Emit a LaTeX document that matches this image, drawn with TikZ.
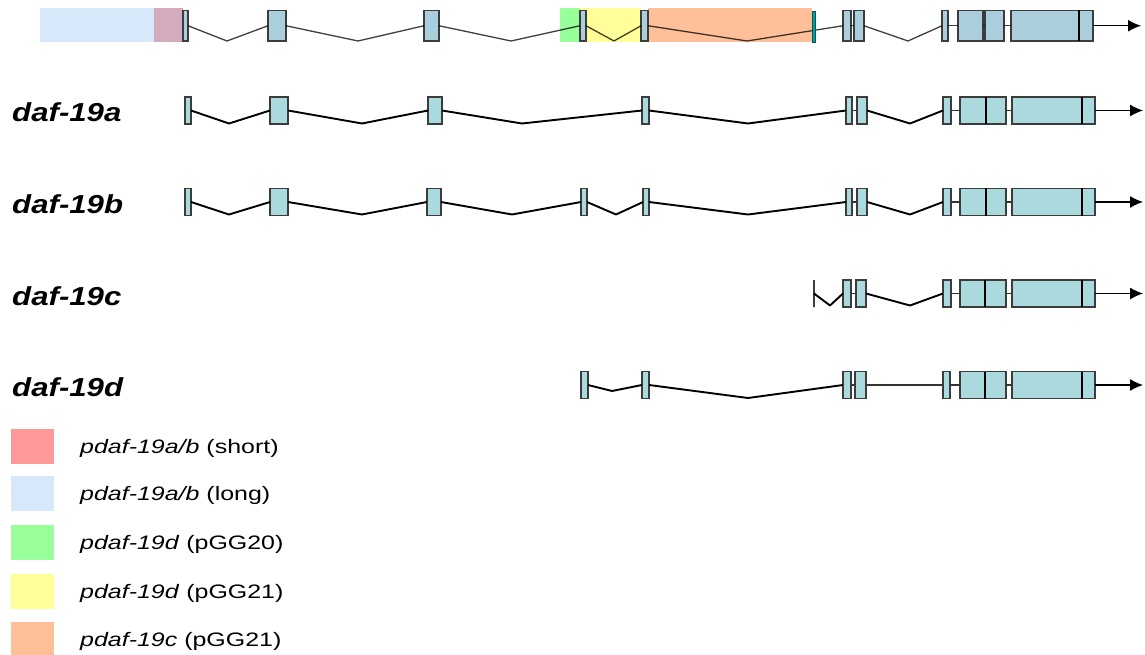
\documentclass[tikz,border=0pt]{standalone}
\usepackage{fontspec}
\setmainfont{Liberation Sans}
\usetikzlibrary{arrows.meta}
\definecolor{exA}{RGB}{170,218,222}
\definecolor{exT}{RGB}{170,206,220}
\definecolor{exBord}{RGB}{60,60,60}
\definecolor{tealx}{RGB}{0,160,160}
\definecolor{cShort}{RGB}{255,153,153}
\definecolor{cLong}{RGB}{214,232,250}
\definecolor{cOver}{RGB}{212,170,190}
\definecolor{cGreen}{RGB}{153,255,153}
\definecolor{cYellow}{RGB}{255,255,153}
\definecolor{cOrange}{RGB}{255,192,153}
\newcommand\ex[5]{\node[#5, minimum width={(#3-#2)*1pt}] (#1) at ({(#2+#3)/2},#4) {};}
\tikzset{
  exonA/.style={draw=exBord, fill=exA, line width=1.2pt, inner sep=0pt, outer sep=0pt, minimum height=27pt},
  exonT/.style={draw=exBord, fill=exT, line width=1.2pt, inner sep=0pt, outer sep=0pt, minimum height=30.5pt},
  tealex/.style={draw=teal!70!black, fill=tealx, line width=0.8pt, inner sep=0pt, outer sep=0pt, minimum height=31pt},
  intA/.style={draw=black, line width=1.9pt, line join=round},
  linA/.style={draw=black!80, line width=1.1pt},
  intT/.style={draw=black, opacity=0.75, line width=1.3pt, line join=round},
  barx/.style={draw=black, line width=2.8pt},
  arr/.style={draw=black, line width=1.2pt, -{Latex[length=13pt,width=12pt]}},
  lab/.style={anchor=base west, inner sep=0pt, font=\fontsize{26}{30}\selectfont\bfseries\itshape},
  legtxt/.style={anchor=base west, inner sep=0pt, font=\fontsize{19.5}{22}\selectfont},
  region/.style={draw=none, inner sep=0pt, outer sep=0pt, minimum height=34.5pt},
  legsq/.style={draw=none, inner sep=0pt, minimum width=43pt, minimum height=35pt},
}
\begin{document}
\begin{tikzpicture}[x=1pt, y=-1pt]
\useasboundingbox (0,0) rectangle (1145,655);
% ---------- top row: regions ----------
\ex{rLong}{40}{154}{25.25}{region, fill=cLong}
\ex{rShort}{154}{183}{25.25}{region, fill=cOver}
\ex{rGreen}{560}{580}{25.25}{region, fill=cGreen}
\ex{rYellow}{580}{641}{25.25}{region, fill=cYellow}
\ex{rOrange}{648}{812}{25.25}{region, fill=cOrange}
% ---------- top row: exons ----------
\ex{t1}{183}{188}{25.75}{exonT}
\ex{t2}{268}{286}{25.75}{exonT}
\ex{t3}{424}{439}{25.75}{exonT}
\ex{t4}{580}{586}{25.75}{exonT}
\ex{t5}{641}{648}{25.75}{exonT}
\ex{t6}{843}{851}{25.75}{exonT}
\ex{t7}{854}{864}{25.75}{exonT}
\ex{t8}{942}{948}{25.75}{exonT}
\ex{t9}{958}{983}{25.75}{exonT}
\ex{t10}{985}{1004}{25.75}{exonT}
\ex{t11}{1011}{1093}{25.75}{exonT}
\draw[intT] (t1.east) -- (227,41) -- (t2.west);
\draw[intT] (t2.east) -- (358,41) -- (t3.west);
\draw[intT] (t3.east) -- (511,41) -- (t4.west);
\draw[intT] (t4.east) -- (614,41) -- (t5.west);
\draw[intT] (t5.east) -- (747,41) -- (t6.west);
\draw[intT] (t6.east) -- (t7.west);
\draw[intT] (t7.east) -- (908,41) -- (t8.west);
\draw[intT] (t8.east) -- (t9.west);
\draw[intT] (t9.east) -- (t10.west);
\draw[intT] (t10.east) -- (t11.west);
\ex{tt}{812}{815}{27}{tealex}
\draw[barx] ([xshift=68pt]t11.north west) -- ([xshift=68pt]t11.south west);
\coordinate (tEnd) at (1141,25.75);
\draw[arr] (t11.east) -- (tEnd);
% ---------- row a ----------
\node[lab] (la) at (12,122) {\scalebox{1.2}[1]{daf-19a}};
\ex{a1}{185}{191}{110.5}{exonA}
\ex{a2}{270}{288}{110.5}{exonA}
\ex{a3}{428}{442}{110.5}{exonA}
\ex{a5}{642}{649}{110.5}{exonA}
\ex{a6}{846}{852}{110.5}{exonA}
\ex{a7}{857}{867}{110.5}{exonA}
\ex{a8}{943}{951}{110.5}{exonA}
\ex{a9}{960}{1006}{110.5}{exonA}
\ex{a11}{1012}{1095}{110.5}{exonA}
\draw[intA] (a1.east) -- (229,123.5) -- (a2.west);
\draw[intA] (a2.east) -- (362,123.5) -- (a3.west);
\draw[intA] (a3.east) -- (522,123.5) -- (a5.west);
\draw[intA] (a5.east) -- (748,123.5) -- (a6.west);
\draw[linA] (a6.east) -- (a7.west);
\draw[intA] (a7.east) -- (910,123.5) -- (a8.west);
\draw[linA] (a8.east) -- (a9.west);
\draw[linA] (a9.east) -- (a11.west);
\draw[barx] ([xshift=26pt]a9.north west) -- ([xshift=26pt]a9.south west);
\draw[barx] ([xshift=70pt]a11.north west) -- ([xshift=70pt]a11.south west);
\coordinate (aEnd) at (1143,110.5);
\draw[arr] (a11.east) -- (aEnd);
% ---------- row b ----------
\node[lab] (lb) at (12,213) {\scalebox{1.2}[1]{daf-19b}};
\ex{b1}{185}{191}{202}{exonA}
\ex{b2}{270}{288}{202}{exonA}
\ex{b3}{427}{441}{202}{exonA}
\ex{b4}{581}{587}{202}{exonA}
\ex{b5}{643}{649}{202}{exonA}
\ex{b6}{846}{852}{202}{exonA}
\ex{b7}{857}{867}{202}{exonA}
\ex{b8}{943}{951}{202}{exonA}
\ex{b9}{960}{1006}{202}{exonA}
\ex{b11}{1012}{1095}{202}{exonA}
\draw[intA] (b1.east) -- (229,214.5) -- (b2.west);
\draw[intA] (b2.east) -- (362,214.5) -- (b3.west);
\draw[intA] (b3.east) -- (512,214.5) -- (b4.west);
\draw[intA] (b4.east) -- (616,214.5) -- (b5.west);
\draw[intA] (b5.east) -- (748,214.5) -- (b6.west);
\draw[linA] (b6.east) -- (b7.west);
\draw[intA] (b7.east) -- (910,214.5) -- (b8.west);
\draw[linA] (b8.east) -- (b9.west);
\draw[linA] (b9.east) -- (b11.west);
\draw[barx] ([xshift=26pt]b9.north west) -- ([xshift=26pt]b9.south west);
\draw[barx] ([xshift=70pt]b11.north west) -- ([xshift=70pt]b11.south west);
\coordinate (bEnd) at (1143,202);
\draw[arr] (b11.east) -- (bEnd);
% ---------- row c ----------
\node[lab] (lc) at (12,305) {\scalebox{1.2}[1]{daf-19c}};
\node[draw=exBord, line width=1.2pt, inner sep=0pt, outer sep=0pt, minimum width=0pt, minimum height=27pt] (c0) at (814,293.5) {};
\ex{c6}{843}{851}{293.5}{exonA}
\ex{c7}{856}{866}{293.5}{exonA}
\ex{c8}{943}{951}{293.5}{exonA}
\ex{c9}{960}{1006}{293.5}{exonA}
\ex{c11}{1012}{1095}{293.5}{exonA}
\draw[intA] (c0.center) -- (830,305.5) -- (c6.west);
\draw[linA] (c6.east) -- (c7.west);
\draw[intA] (c7.east) -- (910,305.5) -- (c8.west);
\draw[linA] (c8.east) -- (c9.west);
\draw[linA] (c9.east) -- (c11.west);
\draw[barx] ([xshift=25pt]c9.north west) -- ([xshift=25pt]c9.south west);
\draw[barx] ([xshift=70pt]c11.north west) -- ([xshift=70pt]c11.south west);
\coordinate (cEnd) at (1143,293.5);
\draw[arr] (c11.east) -- (cEnd);
% ---------- row d ----------
\node[lab] (ld) at (12,396.5) {\scalebox{1.2}[1]{daf-19d}};
\ex{d4}{581}{588}{385}{exonA}
\ex{d5}{642}{649}{385}{exonA}
\ex{d6}{843}{851}{385}{exonA}
\ex{d7}{855}{866}{385}{exonA}
\ex{d8}{943}{950}{385}{exonA}
\ex{d9}{960}{1006}{385}{exonA}
\ex{d11}{1012}{1095}{385}{exonA}
\draw[intA] (d4.east) -- (612,391) -- (d5.west);
\draw[intA] (d5.east) -- (748,398) -- (d6.west);
\draw[linA] (d6.east) -- (d7.west);
\draw[linA] (d7.east) -- (d8.west);
\draw[linA] (d8.east) -- (d9.west);
\draw[linA] (d9.east) -- (d11.west);
\draw[barx] ([xshift=25pt]d9.north west) -- ([xshift=25pt]d9.south west);
\draw[barx] ([xshift=70pt]d11.north west) -- ([xshift=70pt]d11.south west);
\coordinate (dEnd) at (1143,385);
\draw[arr] (d11.east) -- (dEnd);
% ---------- legend ----------
\node[legsq, fill=cShort] (q1) at (32.5,446.5) {};
\node[legsq, fill=cLong] (q2) at (32.5,493.5) {};
\node[legsq, fill=cGreen] (q3) at (32.5,542.5) {};
\node[legsq, fill=cYellow] (q4) at (32.5,591.5) {};
\node[legsq, fill=cOrange] (q5) at (32.5,639.5) {};
\node[legtxt] (t1l) at (80,453) {\scalebox{1.28}[1]{\textit{pdaf-19a/b} (short)}};
\node[legtxt] (t2l) at (80,500) {\scalebox{1.28}[1]{\textit{pdaf-19a/b} (long)}};
\node[legtxt] (t3l) at (80,549) {\scalebox{1.28}[1]{\textit{pdaf-19d} (pGG20)}};
\node[legtxt] (t4l) at (80,598) {\scalebox{1.28}[1]{\textit{pdaf-19d} (pGG21)}};
\node[legtxt] (t5l) at (80,646) {\scalebox{1.28}[1]{\textit{pdaf-19c} (pGG21)}};
\end{tikzpicture}
\end{document}
